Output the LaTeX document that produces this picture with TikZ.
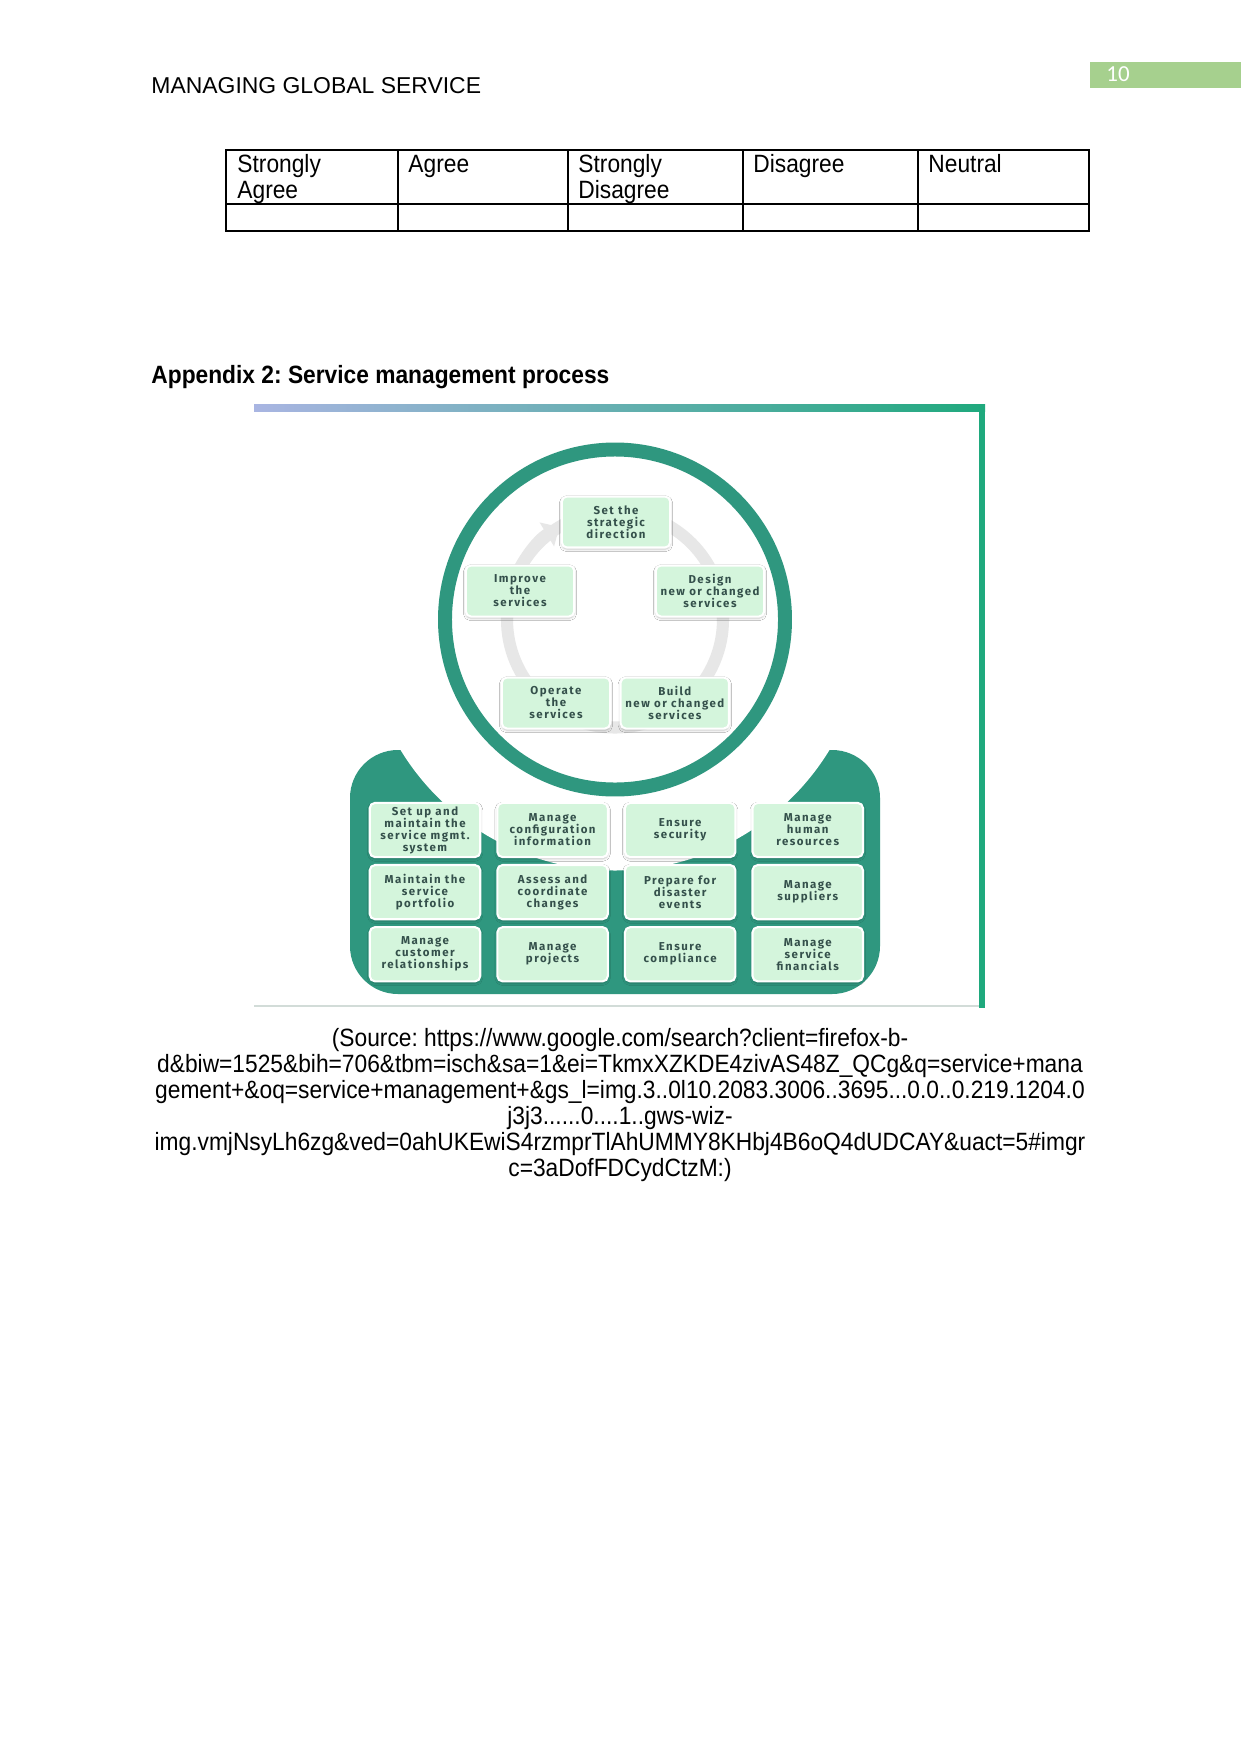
\documentclass[tikz,border=0pt]{standalone}
\usepackage{fontspec}
\setmainfont{Liberation Sans}
\newfontfamily\bodyfont[FakeStretch=0.91]{Liberation Sans}
\newfontfamily\boxfont[LetterSpace=13]{Fira Sans}
\newfontfamily\pagenumfont{Carlito}
\usetikzlibrary{positioning, backgrounds, arrows.meta, shadows.blur, calc}
\frenchspacing

\definecolor{svcgreen}{HTML}{2F977F}
\definecolor{svcmint}{HTML}{D4F5DC}
\definecolor{svctext}{HTML}{34504B}
\definecolor{svcgray}{HTML}{E7E7E7}
\definecolor{frameblue}{HTML}{A9B5E2}
\definecolor{framegreen}{HTML}{1FA97D}
\definecolor{framegray}{HTML}{D2DCD8}
\definecolor{pagegreen}{HTML}{A6D08E}

\begin{document}
\begin{tikzpicture}[
  x=0.4797pt, y=-0.4797pt,
  bodytext/.style={font=\bodyfont\fontsize{12}{14}\selectfont, inner sep=0pt, anchor=base west},
  tableline/.style={draw=black, line width=0.7pt},
  svcbox/.style={rectangle, draw=white, line width=1pt, fill=svcmint, rounded corners=2.5pt, minimum width=53pt, minimum height=26pt, inner sep=1pt, align=center, text=svctext, font=\boxfont\bfseries\fontsize{5.5}{5.76}\selectfont, blur shadow={shadow xshift=0pt, shadow yshift=-0.8pt, shadow blur radius=1.2pt, shadow opacity=25}},
  cyclebox/.style={svcbox, minimum width=52pt, minimum height=24.5pt},
  svcring/.style={draw=svcgray, line width=5.8pt}
]
\useasboundingbox (0,0) rectangle (1241,1754);
\coordinate (ctr) at (615,619.5);

% Page header
\node[anchor=base west, inner sep=0pt, font=\fontsize{11}{13}\selectfont] (header) at (151,94) {MANAGING GLOBAL SERVICE};
\fill[pagegreen] (1090,62) rectangle (1241,88);
\node[anchor=base west, inner sep=0pt, text=white, font=\pagenumfont\fontsize{11}{13}\selectfont] (pagenum) at (1106,82) {10};

% Rating table
\draw[tableline] (226,150) rectangle (1089,231);
\draw[tableline] (226,204) -- (1089,204);
\foreach \xc in {398,568,743,918}
  \draw[tableline] (\xc,150) -- (\xc,231);
\foreach \xc/\first/\second [count=\i] in {237/Strongly/Agree, 408/Agree/{}, 578/Strongly/Disagree, 753/Disagree/{}, 928/Neutral/{}} {
  \node[bodytext] (head\i a) at (\xc,173) {\first};
  \node[bodytext] (head\i b) at (\xc,198) {\second};
}

% Appendix heading
\node[bodytext, font=\bodyfont\bfseries\fontsize{12}{14}\selectfont] (apphead) at (151,383) {Appendix 2: Service management process};

% Cycle of service phases
\node[cyclebox] (strat) at (616,522) {Set the\\strategic\\direction};
\node[cyclebox] (improve) at (520,591) {Improve\\the\\services};
\node[cyclebox] (design) at (710,591) {Design\\new or changed\\services};
\node[cyclebox] (operate) at (556,703) {Operate\\the\\services};
\node[cyclebox, right=4pt of operate] (build) {Build\\new or changed\\services};

% Practice grid
\node[svcbox] (smsys) at (425,830) {Set up and\\maintain the\\service mgmt.\\system};
\node[svcbox, right=7.2pt of smsys] (config) {Manage\\configuration\\information};
\node[svcbox, right=7.2pt of config] (secur) {Ensure\\security};
\node[svcbox, right=7.2pt of secur] (human) {Manage\\human\\resources};

\node[svcbox, below=2.8pt of smsys] (portf) {Maintain the\\service\\portfolio};
\node[svcbox, below=2.8pt of config] (changes) {Assess and\\coordinate\\changes};
\node[svcbox, below=2.8pt of secur] (disaster) {Prepare for\\disaster\\events};
\node[svcbox, below=2.8pt of human] (suppl) {Manage\\suppliers};

\node[svcbox, below=2.8pt of portf] (custrel) {Manage\\customer\\relationships};
\node[svcbox, below=2.8pt of changes] (proj) {Manage\\projects};
\node[svcbox, below=2.8pt of disaster] (compl) {Ensure\\compliance};
\node[svcbox, below=2.8pt of suppl] (finance) {Manage\\service\\financials};

% Source note
\node[bodytext, anchor=base] (src1) at (620,1046) {(Source: https://www.google.com/search?client=firefox-b-};
\node[bodytext, anchor=base] (src2) at (620,1072) {d\&biw=1525\&bih=706\&tbm=isch\&sa=1\&ei=TkmxXZKDE4zivAS48Z\_QCg\&q=service+mana};
\node[bodytext, anchor=base] (src3) at (620,1098) {gement+\&oq=service+management+\&gs\_l=img.3..0l10.2083.3006..3695...0.0..0.219.1204.0};
\node[bodytext, anchor=base] (src4) at (620,1124) {j3j3......0....1..gws-wiz-};
\node[bodytext, anchor=base] (src5) at (620,1150) {img.vmjNsyLh6zg\&ved=0ahUKEwiS4rzmprTlAhUMMY8KHbj4B6oQ4dUDCAY\&uact=5\#imgr};
\node[bodytext, anchor=base] (src6) at (620,1176) {c=3aDofFDCydCtzM:)};

% Frame, base and rings
\begin{scope}[on background layer]
  \fill[white] (0,0) rectangle (1241,1754);
  \shade[left color=frameblue, right color=framegreen] (254,404) rectangle (985,411);
  \fill[framegreen] (979,404) rectangle (985,1008);
  \draw[framegray, line width=0.7pt] (254,1006) -- (979,1006);
  \fill[svcgreen, rounded corners=23pt] (350,750) rectangle (880,994);
  \begin{scope}
    \clip (350,750) rectangle (880,994);
    \fill[white] (ctr) circle[radius=251];
  \end{scope}
  \draw[svcgreen, line width=6.7pt] (ctr) circle[radius=170];
  \draw[svcring] (ctr) circle[radius=108];
  \draw[svcring, -{Triangle[width=13pt, length=7pt]}] ($(ctr)+(-160:108)$) arc[start angle=-160, end angle=-121, radius=108];
\end{scope}

\end{tikzpicture}
\end{document}
